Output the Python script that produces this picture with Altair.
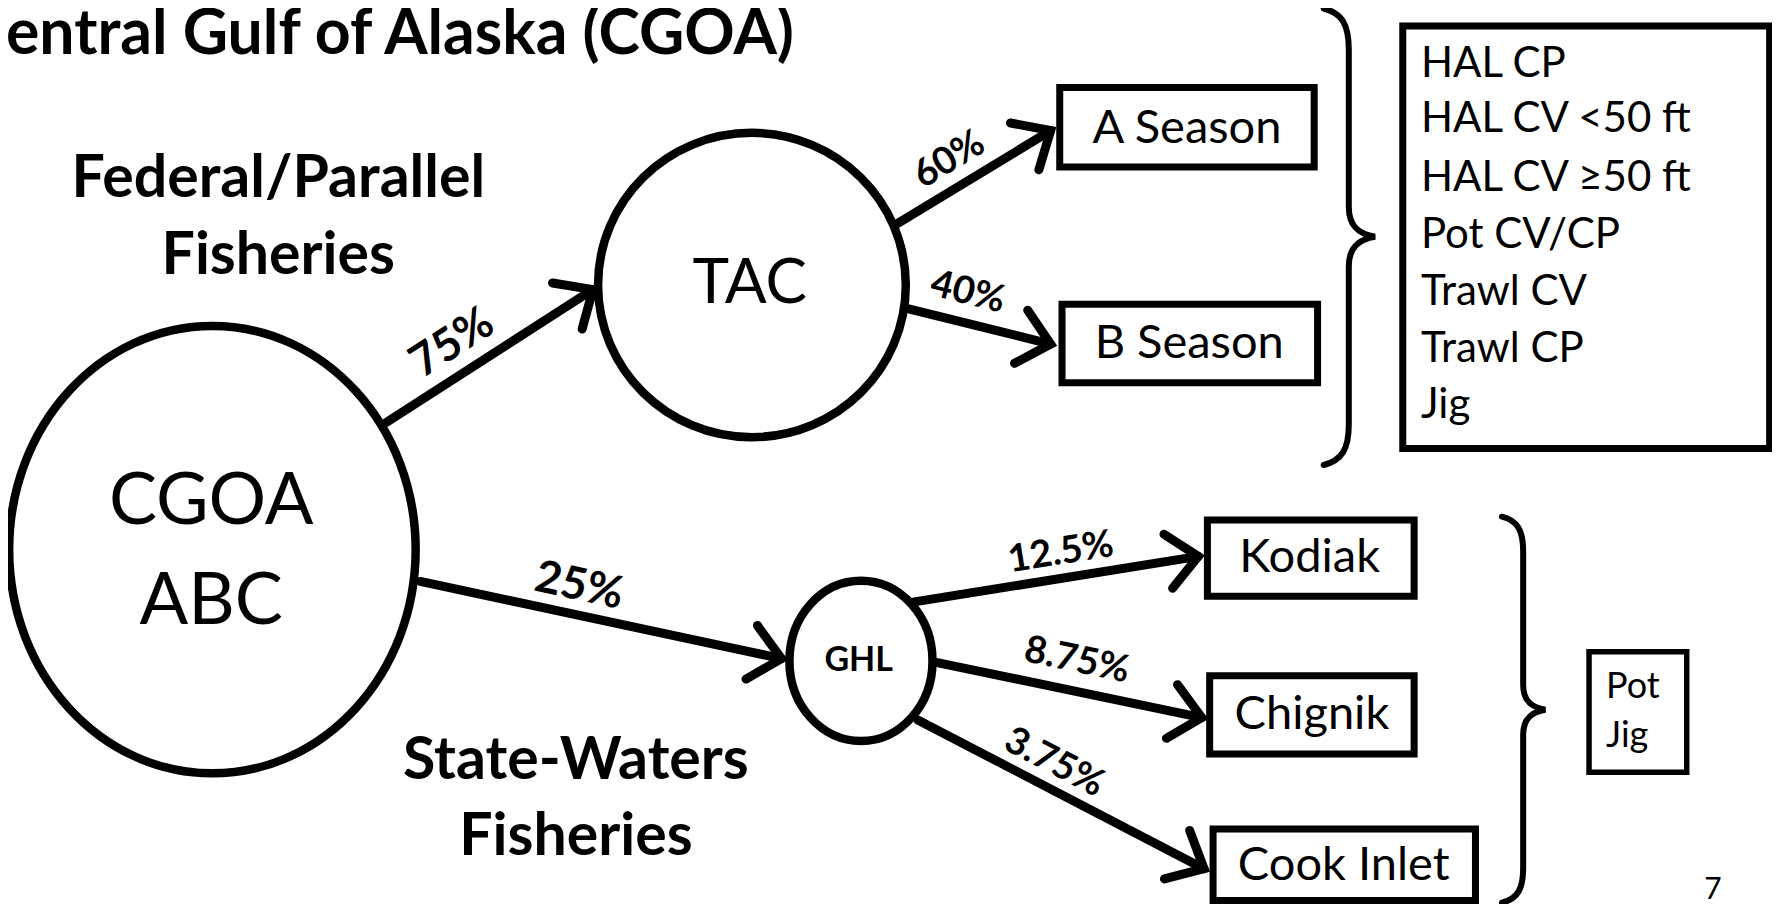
import altair as alt
import pandas as pd
import numpy as np

# ---- data (positions, in 1568x804 view units) ----
title_text = ["Central Gulf of Alaska (CGOA)"]
title_x = [699]
title_y = [31]

node_labels = ["CGOA", "ABC", "TAC"]
node_label_x = [186, 186, 660]
node_label_y = [442, 530, 250]

node_names = ["CGOA ABC", "TAC", "GHL"]
node_x = [187, 662, 758]
node_y = [484, 251, 582]
node_w = [358, 271, 126]
node_h = [394, 268, 141]

box_names = ["A Season", "B Season", "Sectors", "Kodiak", "Chignik", "Cook Inlet", "Gear"]
box_x1 = [933, 935, 1235, 1063, 1065, 1068, 1399]
box_x2 = [1157, 1160, 1558, 1245, 1245, 1299, 1485]
box_y1 = [77, 268, 23, 458, 595, 730, 574]
box_y2 = [147, 337, 395, 525, 664, 793, 680]

box_text = ["A Season", "B Season", "Kodiak", "Chignik", "Cook Inlet"]
box_text_x = [1045, 1047, 1153, 1155, 1183]
box_text_y = [114, 303, 491, 630, 763]

sector_items = ["HAL CP", "HAL CV <50 ft", "HAL CV \u226550 ft", "Pot CV/CP", "Trawl CV", "Trawl CP", "Jig"]
sector_x = [1251] * 7
sector_y = [56, 105, 157, 207, 257, 307, 357]

gear_items = ["Pot", "Jig"]
gear_x = [1414, 1414]
gear_y = [605, 648]

arrow_labels = ["75%", "25%", "60%", "40%", "12.5%", "8.75%", "3.75%"]
arrow_x1 = [340, 370, 790, 800, 805, 823, 808]
arrow_y1 = [372, 512, 197, 272, 530, 583, 634]
arrow_x2 = [522, 688, 925, 925, 1055, 1058, 1060]
arrow_y2 = [255, 580, 115, 303, 490, 632, 765]
label_x = [398, 510, 836, 852, 934, 948, 928]
label_y = [302, 516, 141, 258, 487, 582, 672]

heading_text = ["Federal/Parallel", "Fisheries", "State-Waters", "Fisheries"]
heading_x = [245, 245, 507, 507]
heading_y = [158, 225, 670, 737]

brace_x = [1187.5, 1341]
brace_y = [208.5, 625]
brace_h = [402, 340]

page_number = ["7"]
page_x = [1508]
page_y = [784]

# ---- layout helpers ----
SX = 1781 / 1568
SY = 913 / 804
W, H = 1764, 896
xs = alt.Scale(domain=[8 / SX, (8 + W) / SX], nice=False, zero=False)
ys = alt.Scale(domain=[(8 + H) / SY, 8 / SY], nice=False, zero=False)
FONT = "Lato"


def ellipse_path(a):
    k = 0.5523
    return (f"M {a:.4f} 0 C {a:.4f} {k} {a*k:.4f} 1 0 1 C {-a*k:.4f} 1 {-a:.4f} {k} {-a:.4f} 0 "
            f"C {-a:.4f} {-k} {-a*k:.4f} -1 0 -1 C {a*k:.4f} -1 {a:.4f} {-k} {a:.4f} 0 Z")


BRACE = ("M -0.11 -1 C -0.03 -0.98 0 -0.93 0 -0.82 L 0 -0.13 C 0 -0.04 0.05 -0.01 0.115 0 "
         "C 0.05 0.01 0 0.04 0 0.13 L 0 0.82 C 0 0.93 -0.03 0.98 -0.11 1")
HEAD = "M -1 -0.9 L 0 0 L -1 0.9"

nodes = pd.DataFrame({"name": node_names, "x": node_x, "y": node_y})
nodes["shape"] = [ellipse_path(w / h) for w, h in zip(node_w, node_h)]
nodes["size"] = [(h * SY) ** 2 for h in node_h]

boxes = pd.DataFrame({"name": box_names, "x1": box_x1, "x2": box_x2, "y1": box_y1, "y2": box_y2})

arrows = pd.DataFrame({"label": arrow_labels, "x1": arrow_x1, "y1": arrow_y1,
                       "x2": arrow_x2, "y2": arrow_y2, "lx": label_x, "ly": label_y})
arrows["ang"] = np.degrees(np.arctan2((arrows.y2 - arrows.y1) * SY, (arrows.x2 - arrows.x1) * SX)) % 360
arrows["big"] = arrows.label.isin(["75%", "25%"])

braces = pd.DataFrame({"x": brace_x, "y": brace_y})
braces["size"] = [(h * SY) ** 2 for h in brace_h]


def X(f):
    return alt.X(f, type="quantitative", scale=xs, axis=None)


def Y(f):
    return alt.Y(f, type="quantitative", scale=ys, axis=None)


rect_layer = alt.Chart(boxes[boxes.name != "Gear"]).mark_rect(
    fill="white", stroke="black", strokeWidth=7
).encode(x=X("x1"), x2="x2", y=Y("y1"), y2="y2")

gear_rect = alt.Chart(boxes[boxes.name == "Gear"]).mark_rect(
    fill="white", stroke="black", strokeWidth=5.5
).encode(x=X("x1"), x2="x2", y=Y("y1"), y2="y2")

ellipse_layer = alt.Chart(nodes).mark_point(
    filled=False, stroke="black", strokeWidth=8.5, opacity=1
).encode(x=X("x"), y=Y("y"), shape=alt.Shape("shape:N", scale=None),
         size=alt.Size("size:Q", scale=None))

rule_layer = alt.Chart(arrows).mark_rule(
    stroke="black", strokeWidth=9, strokeCap="round"
).encode(x=X("x1"), y=Y("y1"), x2="x2", y2="y2")

head_layer = alt.Chart(arrows).mark_point(
    shape=HEAD, filled=False, stroke="black", strokeWidth=9, size=3700,
    strokeCap="round", strokeJoin="miter", opacity=1
).encode(x=X("x2"), y=Y("y2"), angle=alt.Angle("ang:Q", scale=None))

brace_layer = alt.Chart(braces).mark_point(
    shape=BRACE, filled=False, stroke="black", strokeWidth=6, opacity=1,
    strokeCap="round"
).encode(x=X("x"), y=Y("y"), size=alt.Size("size:Q", scale=None))


def text_layer(texts, xs_, ys_, size, weight="normal", align="center"):
    df = pd.DataFrame({"t": texts, "x": xs_, "y": ys_})
    return alt.Chart(df).mark_text(
        font=FONT, fontSize=size, fontWeight=weight, align=align, baseline="middle",
        color="black"
    ).encode(x=X("x"), y=Y("y"), text="t:N")


title_layer = text_layer(title_text, title_x, title_y, 62.5, "bold", "right")
heading_layer = text_layer(heading_text, heading_x, heading_y, 59, "bold")
cgoa_layer = text_layer(node_labels[:2], node_label_x[:2], node_label_y[:2], 72)
tac_layer = text_layer(node_labels[2:], node_label_x[2:], node_label_y[2:], 62)
ghl_layer = text_layer(["GHL"], [756], [582], 34, "bold")
box_text_layer = text_layer(box_text, box_text_x, box_text_y, 47)
sector_layer = text_layer(sector_items, sector_x, sector_y, 42, align="left")
gear_layer = text_layer(gear_items, gear_x, gear_y, 36, align="left")
page_layer = text_layer(page_number, page_x, page_y, 30)


def label_layer(big, size):
    return alt.Chart(arrows[arrows.big == big]).mark_text(
        font=FONT, fontSize=size, fontWeight="bold", align="center", baseline="middle",
        color="black"
    ).encode(x=X("lx"), y=Y("ly"), text="label:N", angle=alt.Angle("ang:Q", scale=None))


chart = alt.layer(
    rect_layer, gear_rect, ellipse_layer, rule_layer, head_layer, brace_layer,
    title_layer, heading_layer, cgoa_layer, tac_layer, ghl_layer, box_text_layer,
    sector_layer, gear_layer, page_layer, label_layer(True, 45), label_layer(False, 38)
).properties(
    width=W, height=H, padding=0,
    autosize=alt.AutoSizeParams(type="none"),
    background="white"
).configure_view(stroke=None)

chart.save("out.html", embed_options={"renderer": "svg", "actions": False})
